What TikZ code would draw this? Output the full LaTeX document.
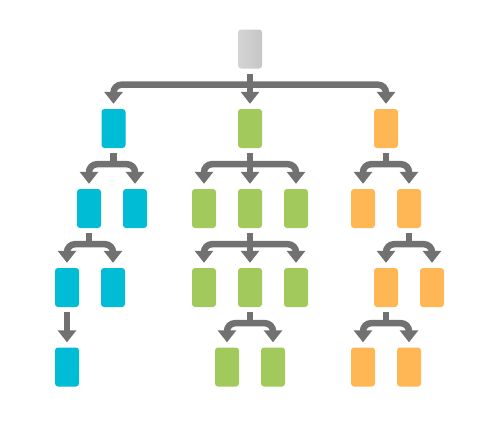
\documentclass[tikz,border=0pt]{standalone}
\usetikzlibrary{arrows.meta}
\definecolor{cyanc}{HTML}{00BCD4}
\definecolor{greenc}{HTML}{A1C95B}
\definecolor{orangec}{HTML}{FFB655}
\definecolor{arrowc}{HTML}{717171}
\definecolor{topl}{HTML}{D4D4D4}
\definecolor{topr}{HTML}{C6C6C6}
\tikzset{
  box/.style={rectangle, rounded corners=3pt, minimum width=24pt, minimum height=39pt, inner sep=0pt, draw=none},
  cy/.style={box, fill=cyanc},
  gr/.style={box, fill=greenc},
  orr/.style={box, fill=orangec},
  topbox/.style={box, left color=topl, right color=topr},
  conn/.style={draw=arrowc, line width=6.5pt},
  tipline/.style={conn, rounded corners=8pt, -{Triangle[width=18pt,length=12pt]}},
}
\newcommand\stemdown[1]{\draw[conn] ([yshift=-5pt]#1.south) -- ([yshift=-19pt]#1.south);}
\newcommand\branch[2]{\draw[tipline] ([yshift=-16pt]#1.south) -| ([yshift=5pt]#2.north);}
\newcommand\straight[2]{\draw[tipline] ([yshift=-16pt]#1.south) -- ([yshift=5pt]#2.north);}
\begin{document}
\begin{tikzpicture}[x=1pt,y=-1pt]
\useasboundingbox (0,0) rectangle (500,421);
% top
\node[topbox] (t) at (250,49) {};
% level 1
\node[cy] (c1) at (113.5,128.5) {};
\node[gr] (g1) at (250,128.5) {};
\node[orr] (o1) at (386,128.5) {};
% level 2
\node[cy] (c2a) at (89,208.5) {};
\node[cy] (c2b) at (135,208.5) {};
\node[gr] (g2a) at (204,208.5) {};
\node[gr] (g2b) at (250,208.5) {};
\node[gr] (g2c) at (296,208.5) {};
\node[orr] (o2a) at (363,208.5) {};
\node[orr] (o2b) at (409,208.5) {};
% level 3
\node[cy] (c3a) at (67,287.5) {};
\node[cy] (c3b) at (113,287.5) {};
\node[gr] (g3a) at (204,287.5) {};
\node[gr] (g3b) at (250,287.5) {};
\node[gr] (g3c) at (296,287.5) {};
\node[orr] (o3a) at (386,287.5) {};
\node[orr] (o3b) at (432,287.5) {};
% level 4
\node[cy] (c4) at (67,367) {};
\node[gr] (g4a) at (227,367) {};
\node[gr] (g4b) at (273,367) {};
\node[orr] (o4a) at (363,367) {};
\node[orr] (o4b) at (409,367) {};
% connectors
\stemdown{t}
\branch{t}{c1} \straight{t}{g1} \branch{t}{o1}
\stemdown{c1}
\branch{c1}{c2a} \branch{c1}{c2b}
\stemdown{c2a}
\branch{c2a}{c3a} \branch{c2a}{c3b}
\draw[tipline] ([yshift=-5pt]c3a.south) -- ([yshift=5pt]c4.north);
\stemdown{g1}
\branch{g1}{g2a} \straight{g1}{g2b} \branch{g1}{g2c}
\stemdown{g2b}
\branch{g2b}{g3a} \straight{g2b}{g3b} \branch{g2b}{g3c}
\stemdown{g3b}
\branch{g3b}{g4a} \branch{g3b}{g4b}
\stemdown{o1}
\branch{o1}{o2a} \branch{o1}{o2b}
\stemdown{o2b}
\branch{o2b}{o3a} \branch{o2b}{o3b}
\stemdown{o3a}
\branch{o3a}{o4a} \branch{o3a}{o4b}
\end{tikzpicture}
\end{document}
